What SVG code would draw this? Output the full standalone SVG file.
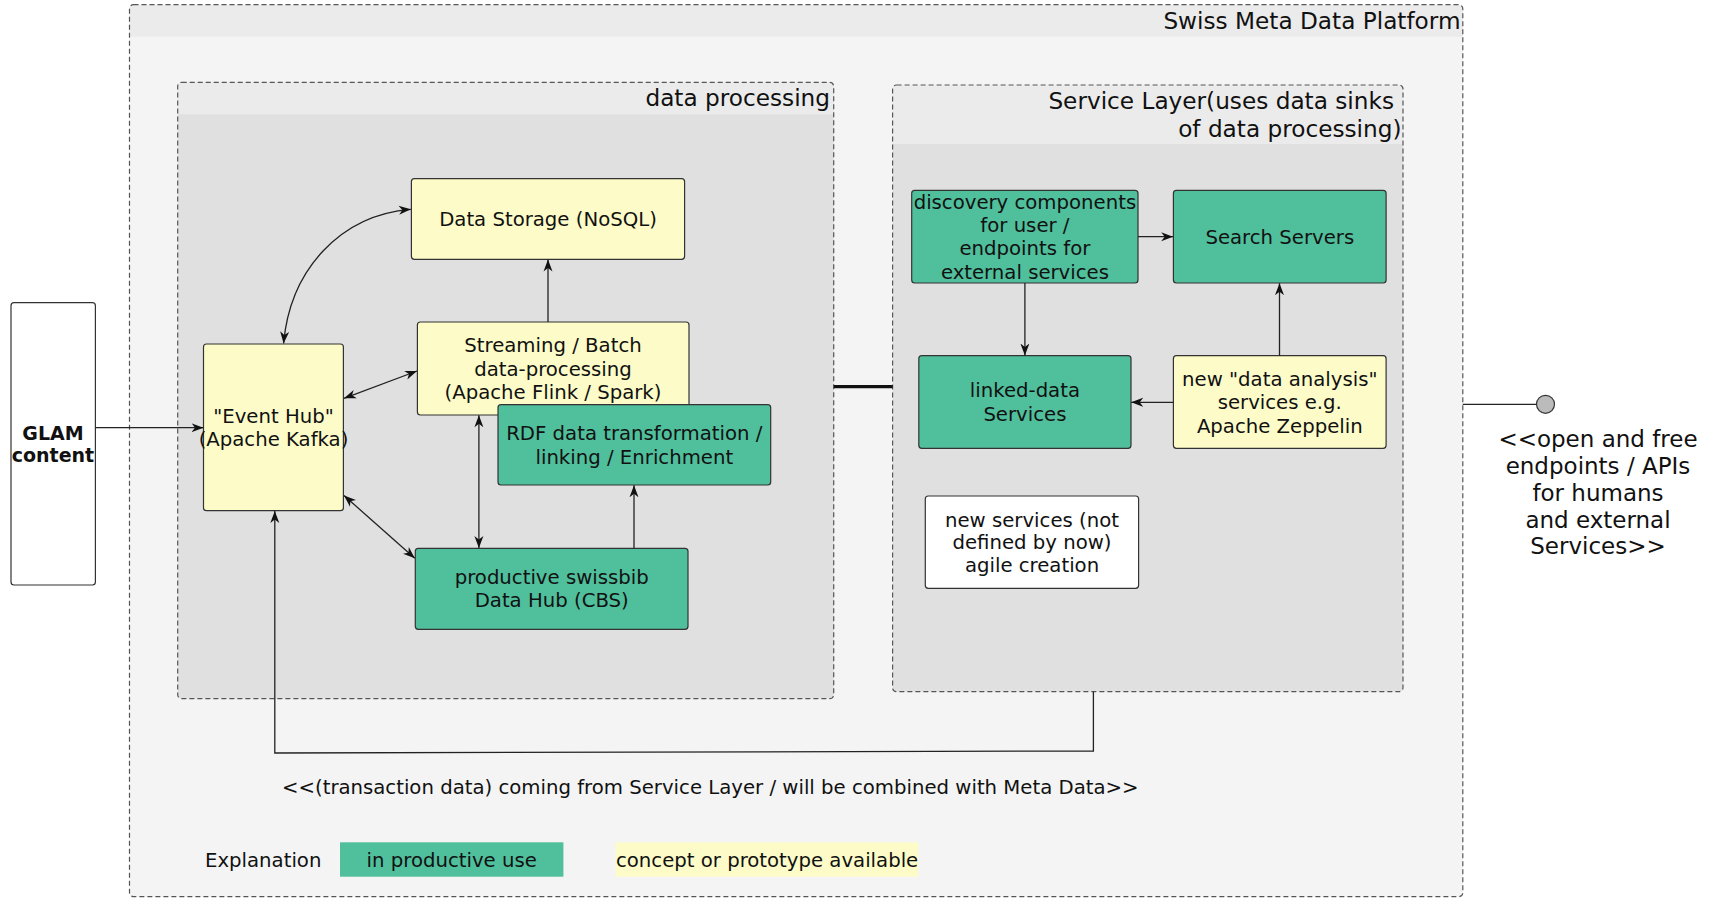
<svg xmlns="http://www.w3.org/2000/svg" width="1713" height="900" viewBox="0 0 1713 900">
<style>
text{font-family:"DejaVu Sans","Liberation Sans",sans-serif;fill:#111;}
.n{font-size:19.7px;text-anchor:middle;}
.t{font-size:23.2px;text-anchor:end;}
.box{stroke:#333;stroke-width:1.2;}
.g{fill:#50bf9c;}
.y{fill:#fdfcc9;}
.w{fill:#fff;}
.cont{stroke:#555;stroke-width:1.2;stroke-dasharray:5,3;}
.c{fill:none;stroke:#222;stroke-width:1.3;}
</style>
<defs>
<marker id="ah" viewBox="0 0 12 10" refX="12" refY="5" markerWidth="12" markerHeight="10" orient="auto-start-reverse" markerUnits="userSpaceOnUse">
<path d="M0,0.5 L12,5 L0,9.5 L3.5,5 z" fill="#111"/>
</marker>
</defs>
<rect width="1713" height="900" fill="#fff"/>

<g id="platform">
<rect x="129.5" y="4.7" width="1333.3" height="892" rx="4" fill="#f4f4f4"/>
<path d="M133.5,4.7 H1458.8 a4,4 0 0 1 4,4 V36.7 H129.5 V8.7 a4,4 0 0 1 4,-4 z" fill="#ebebeb"/>
<rect x="129.5" y="4.7" width="1333.3" height="892" rx="4" fill="none" class="cont"/>
<text class="t" x="1460.5" y="29">Swiss Meta Data Platform</text>
</g>

<g id="data-processing">
<rect x="177.7" y="82.3" width="656" height="616.4" rx="4" fill="#e0e0e0"/>
<path d="M181.7,82.3 H829.7 a4,4 0 0 1 4,4 V114.3 H177.7 V86.3 a4,4 0 0 1 4,-4 z" fill="#ebebeb"/>
<rect x="177.7" y="82.3" width="656" height="616.4" rx="4" fill="none" class="cont"/>
<text class="t" x="830" y="106">data processing</text>
</g>

<g id="service-layer">
<rect x="892.6" y="85" width="510.4" height="606.7" rx="4" fill="#e0e0e0"/>
<path d="M896.6,85 H1399 a4,4 0 0 1 4,4 V144 H892.6 V89 a4,4 0 0 1 4,-4 z" fill="#ebebeb"/>
<rect x="892.6" y="85" width="510.4" height="606.7" rx="4" fill="none" class="cont"/>
<text class="t" x="1394" y="108.5">Service Layer(uses data sinks</text>
<text class="t" x="1401.5" y="137">of data processing)</text>
</g>

<g id="glam">
<rect class="box w" x="11" y="302.7" width="84.4" height="282.3" rx="3"/>
<text x="53" y="440" style="font-size:19px;font-weight:bold;text-anchor:middle">GLAM</text>
<text x="53" y="462" style="font-size:19px;font-weight:bold;text-anchor:middle">content</text>
</g>

<g id="data-storage">
<rect class="box y" x="411.4" y="178.7" width="273.2" height="80.6" rx="3"/>
<text class="n" x="548" y="226">Data Storage (NoSQL)</text>
</g>

<g id="event-hub">
<rect class="box y" x="203.5" y="344" width="139.9" height="166.7" rx="3"/>
<text class="n" x="273.5" y="422.7">"Event Hub"</text>
<text class="n" x="273.5" y="446">(Apache Kafka)</text>
</g>

<g id="streaming">
<rect class="box y" x="417.4" y="322" width="271.6" height="93" rx="3"/>
<text class="n" x="553" y="352.2">Streaming / Batch</text>
<text class="n" x="553" y="375.5">data-processing</text>
<text class="n" x="553" y="398.8">(Apache Flink / Spark)</text>
</g>

<g id="rdf">
<rect class="box g" x="498" y="404.7" width="272.7" height="80.3" rx="3"/>
<text class="n" x="634.3" y="440.3">RDF data transformation /</text>
<text class="n" x="634.3" y="463.7">linking / Enrichment</text>
</g>

<g id="cbs">
<rect class="box g" x="415.3" y="548.3" width="272.7" height="81" rx="3"/>
<text class="n" x="551.7" y="584">productive swissbib</text>
<text class="n" x="551.7" y="607.3">Data Hub (CBS)</text>
</g>

<g id="discovery">
<rect class="box g" x="911.7" y="190.3" width="226.3" height="92.7" rx="3"/>
<text class="n" x="1024.9" y="208.7">discovery components</text>
<text class="n" x="1024.9" y="232">for user /</text>
<text class="n" x="1024.9" y="255.3">endpoints for</text>
<text class="n" x="1024.9" y="278.6">external services</text>
</g>

<g id="search-servers">
<rect class="box g" x="1173.4" y="190.3" width="212.7" height="92.7" rx="3"/>
<text class="n" x="1279.8" y="243.7">Search Servers</text>
</g>

<g id="linked-data">
<rect class="box g" x="918.8" y="355.7" width="212.2" height="92.6" rx="3"/>
<text class="n" x="1024.9" y="397.3">linked-data</text>
<text class="n" x="1024.9" y="420.7">Services</text>
</g>

<g id="data-analysis">
<rect class="box y" x="1173.4" y="355.7" width="212.7" height="92.6" rx="3"/>
<text class="n" x="1279.8" y="386">new "data analysis"</text>
<text class="n" x="1279.8" y="409.3">services e.g.</text>
<text class="n" x="1279.8" y="432.6">Apache Zeppelin</text>
</g>

<g id="new-services">
<rect class="box w" x="925.3" y="496" width="213.3" height="92.3" rx="3"/>
<text class="n" x="1032" y="527">new services (not</text>
<text class="n" x="1032" y="548.7">defined by now)</text>
<text class="n" x="1032" y="572">agile creation</text>
</g>

<g id="interface">
<circle cx="1545.5" cy="404.3" r="9" fill="#bbb" stroke="#333" stroke-width="1.2"/>
<text x="1598" y="447" style="font-size:23px;text-anchor:middle">&lt;&lt;open and free</text>
<text x="1598" y="474" style="font-size:23px;text-anchor:middle">endpoints / APIs</text>
<text x="1598" y="501" style="font-size:23px;text-anchor:middle">for humans</text>
<text x="1598" y="527.5" style="font-size:23px;text-anchor:middle">and external</text>
<text x="1598" y="554" style="font-size:23px;text-anchor:middle">Services&gt;&gt;</text>
</g>

<g id="notes">
<text x="282" y="793.5" style="font-size:19.7px">&lt;&lt;(transaction data) coming from Service Layer / will be combined with Meta Data&gt;&gt;</text>
</g>

<g id="legend">
<text x="205" y="866.5" style="font-size:19.7px">Explanation</text>
<rect class="g" x="340" y="842.3" width="223.4" height="34.4"/>
<text class="n" x="451.7" y="866.5">in productive use</text>
<rect class="y" x="615.5" y="842.3" width="302.7" height="34.4"/>
<text x="616" y="866.5" style="font-size:19.7px">concept or prototype available</text>
</g>

<g id="connectors">
<path class="c" d="M95.4,427.7 H203.5" marker-end="url(#ah)"/>
<path class="c" d="M283.6,343.5 C290,270 340,215 410.8,209.3" marker-start="url(#ah)" marker-end="url(#ah)"/>
<path class="c" d="M548,322 V259.5" marker-end="url(#ah)"/>
<path class="c" d="M344,398.3 L417,371" marker-start="url(#ah)" marker-end="url(#ah)"/>
<path class="c" d="M478.9,415.3 V548" marker-start="url(#ah)" marker-end="url(#ah)"/>
<path class="c" d="M344,495.5 L414.8,558.3" marker-start="url(#ah)" marker-end="url(#ah)"/>
<path class="c" d="M634,548.3 V485.3" marker-end="url(#ah)"/>
<path class="c" d="M1093.4,691.7 V751 L274.8,753 V511" marker-end="url(#ah)"/>
<path d="M833.8,386.7 H892.6" fill="none" stroke="#111" stroke-width="3.2"/>
<path class="c" d="M1138,236.7 H1173.2" marker-end="url(#ah)"/>
<path class="c" d="M1024.9,283 V355.5" marker-end="url(#ah)"/>
<path class="c" d="M1173.4,402.3 H1131.2" marker-end="url(#ah)"/>
<path class="c" d="M1279.5,355.7 V283.2" marker-end="url(#ah)"/>
<path class="c" d="M1462.8,404.3 H1536.5"/>
</g>
</svg>
